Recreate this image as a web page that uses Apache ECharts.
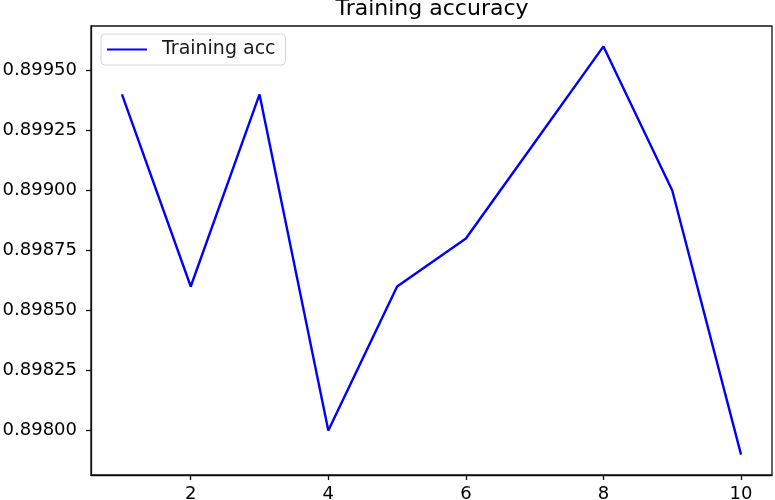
<!DOCTYPE html>
<html><head><meta charset="utf-8">
<script src="https://cdn.jsdelivr.net/npm/echarts@6/dist/echarts.min.js"></script>
<style>html,body{margin:0;padding:0;background:#fff}#c{width:775px;height:500px}</style>
</head><body><div id="c"></div>
<script>
const epochs = [1, 2, 3, 4, 5, 6, 7, 8, 9, 10];
const trainingAcc = [0.8994, 0.8986, 0.8994, 0.8980, 0.8986, 0.8988, 0.8992, 0.8996, 0.8990, 0.8979];
const xTicks = [2, 4, 6, 8, 10];
const yTicks = [0.89800, 0.89825, 0.89850, 0.89875, 0.89900, 0.89925, 0.89950];
const seriesName = 'Training acc';
const titleText = 'Training accuracy';

const xMin = 0.55, xMax = 10.45;
const yMin = 0.897815, yMax = 0.899685;
const font = 'DejaVu Sans';

const chart = echarts.init(document.getElementById('c'), null, {renderer: 'canvas'});
chart.setOption({
  animation: false,
  backgroundColor: '#fff',
  title: {
    text: titleText, left: 432, top: -2, textAlign: 'center', padding: 0,
    textStyle: {fontFamily: font, fontSize: 22, fontWeight: 'normal', color: '#000'}
  },
  legend: {
    left: 101, top: 34, orient: 'vertical',
    backgroundColor: '#fff', borderColor: '#d6d6d6', borderWidth: 1, borderRadius: 4,
    padding: [6, 10, 6, 6],
    icon: 'rect', itemWidth: 40, itemHeight: 2, itemGap: 10,
    textStyle: {fontFamily: font, fontSize: 19, color: '#1a1a1a', padding: [0, 0, 0, 10]},
    data: [seriesName]
  },
  grid: {left: 91, right: 3, top: 26, bottom: 25, show: true, borderColor: '#111', borderWidth: 1.3,
    outerBoundsMode: 'none', containLabel: false},
  xAxis: {
    type: 'value', min: xMin, max: xMax,
    splitLine: {show: false},
    axisLine: {show: true, lineStyle: {color: '#111', width: 1.3}},
    axisTick: {show: true, inside: false, length: 5, customValues: xTicks, lineStyle: {color: '#111', width: 1.3}},
    axisLabel: {customValues: xTicks, fontFamily: font, fontSize: 18, color: '#000', margin: 10}
  },
  yAxis: {
    type: 'value', min: yMin, max: yMax,
    splitLine: {show: false},
    axisLine: {show: true, lineStyle: {color: '#111', width: 1.3}},
    axisTick: {show: true, inside: false, length: 5, customValues: yTicks, lineStyle: {color: '#111', width: 1.3}},
    axisLabel: {customValues: yTicks, fontFamily: font, fontSize: 18, color: '#000', margin: 14,
      formatter: v => v.toFixed(5)}
  },
  series: [{
    name: seriesName, type: 'line',
    data: epochs.map((e, i) => [e, trainingAcc[i]]),
    symbol: 'none', lineStyle: {color: '#0000ff', width: 2.4}, itemStyle: {color: '#0000ff'}
  }]
});
</script></body></html>
